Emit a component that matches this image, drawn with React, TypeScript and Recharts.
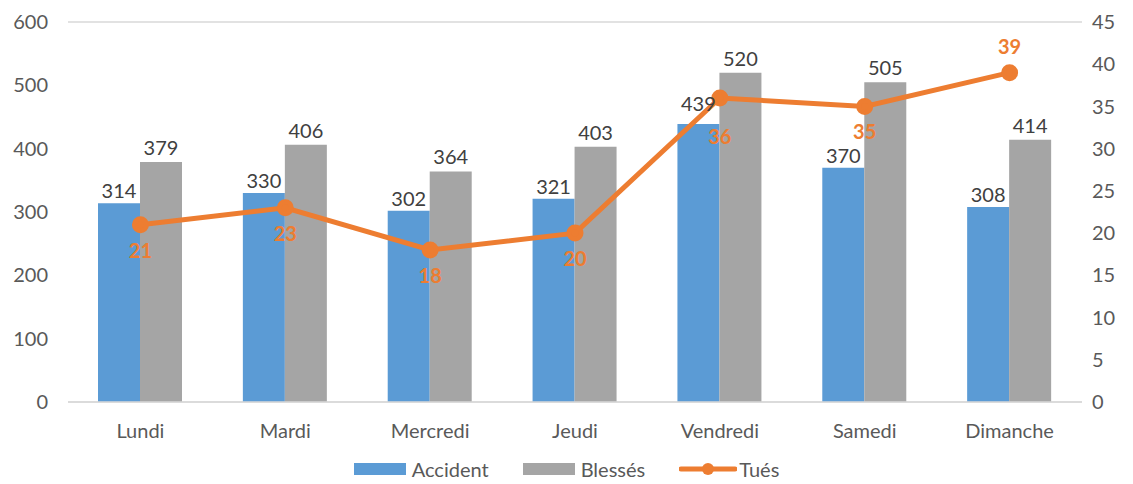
import { ComposedChart, Bar, Line, XAxis, YAxis, CartesianGrid, Legend, LabelList } from 'recharts';

// ==========================================
// DATA
// ==========================================

const days = ['Lundi', 'Mardi', 'Mercredi', 'Jeudi', 'Vendredi', 'Samedi', 'Dimanche'];
const accidents = [314, 330, 302, 321, 439, 370, 308];
const blesses = [379, 406, 364, 403, 520, 505, 414];
const tues = [21, 23, 18, 20, 36, 35, 39];

const leftTicks = [0, 100, 200, 300, 400, 500, 600];
const rightTicks = [0, 5, 10, 15, 20, 25, 30, 35, 40, 45];

const chartData = days.map((day, i) => ({
  day,
  accident: accidents[i],
  blesses: blesses[i],
  tues: tues[i]
}));

const FONT = 'Lato, "Open Sans", sans-serif';
const BLUE = '#5B9BD5';
const GREY = '#A5A5A5';
const ORANGE = '#ED7D31';

document.body.style.margin = '0';

// labels of Tués: below the point, except the last one (above)
const TuesLabel = (props: any) => {
  const { x, y, value, index } = props;
  const above = index === days.length - 1;
  const below = index === 4 ? 38 : 25;
  return (
    <text
      x={x}
      y={above ? y - 27 : y + below}
      textAnchor="middle"
      dominantBaseline="central"
      fill={ORANGE}
      fontSize={20}
      fontWeight={700}
      fontFamily={FONT}
    >
      {value}
    </text>
  );
};

// accident labels: Vendredi one sits a bit higher (like excel did)
const AccidentLabel = (props: any) => {
  const { x, y, width, value, index } = props;
  const lift = index === 4 ? 21 : 13;
  return (
    <text
      x={x + width / 2}
      y={y - lift}
      textAnchor="middle"
      dominantBaseline="central"
      fill="#404040"
      fontSize={20}
      fontFamily={FONT}
    >
      {value}
    </text>
  );
};

const LegendContent = () => (
  <div style={{
    display: 'flex',
    justifyContent: 'center',
    alignItems: 'center',
    fontFamily: FONT,
    fontSize: 20,
    color: '#595959',
    gap: 34
  }}>
    <div style={{ display: 'flex', alignItems: 'center' }}>
      <span style={{ width: 52, height: 12, background: BLUE, marginRight: 6 }} />
      Accident
    </div>
    <div style={{ display: 'flex', alignItems: 'center' }}>
      <span style={{ width: 52, height: 12, background: GREY, marginRight: 6 }} />
      Blessés
    </div>
    <div style={{ display: 'flex', alignItems: 'center' }}>
      <svg width={58} height={16} style={{ marginRight: 2 }}>
        <line x1={2} y1={8} x2={56} y2={8} stroke={ORANGE} strokeWidth={5} strokeLinecap="round" />
        <circle cx={29} cy={8} r={6} fill={ORANGE} />
      </svg>
      Tués
    </div>
  </div>
);

export default function App() {
  return (
    <div style={{ width: 1133, height: 484, background: '#fff' }}>
      <ComposedChart
        width={1133}
        height={484}
        data={chartData}
        margin={{ top: 22, right: 0, left: 0, bottom: 0 }}
        barGap={0}
        barSize={42}
      >
        <CartesianGrid vertical={false} stroke="#D9D9D9" strokeWidth={1.5} />

        <XAxis
          dataKey="day"
          height={55}
          tickLine={false}
          axisLine={{ stroke: '#D9D9D9', strokeWidth: 1.5 }}
          tickMargin={16}
          tick={{ fill: '#595959', fontSize: 20, fontFamily: FONT }}
        />

        <YAxis
          yAxisId="left"
          width={68}
          domain={[0, 600]}
          ticks={leftTicks}
          axisLine={false}
          tickLine={false}
          tickMargin={14}
          tick={{ fill: '#595959', fontSize: 20, fontFamily: FONT }}
        />

        <YAxis
          yAxisId="right"
          orientation="right"
          width={51}
          domain={[0, 45]}
          ticks={rightTicks}
          axisLine={false}
          tickLine={false}
          tickMargin={4}
          tick={{ fill: '#595959', fontSize: 20, fontFamily: FONT, textAnchor: 'start' }}
        />

        <Legend verticalAlign="bottom" height={27} content={<LegendContent />} />

        <Bar yAxisId="left" dataKey="accident" name="Accident" fill={BLUE} isAnimationActive={false}>
          <LabelList dataKey="accident" content={<AccidentLabel />} />
        </Bar>

        <Bar yAxisId="left" dataKey="blesses" name="Blessés" fill={GREY} isAnimationActive={false}>
          <LabelList dataKey="blesses" position="top" offset={7} fill="#404040" fontSize={20} fontFamily={FONT} />
        </Bar>

        <Line
          yAxisId="right"
          dataKey="tues"
          name="Tués"
          stroke={ORANGE}
          strokeWidth={5}
          dot={{ r: 6, fill: ORANGE, stroke: ORANGE }}
          isAnimationActive={false}
        >
          <LabelList dataKey="tues" content={<TuesLabel />} />
        </Line>
      </ComposedChart>
    </div>
  );
}
